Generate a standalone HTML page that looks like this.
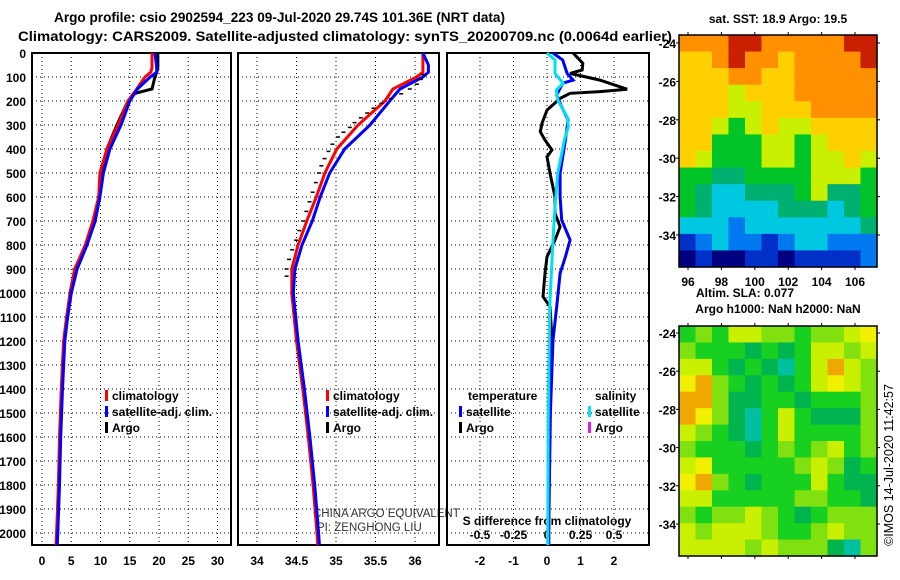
<!DOCTYPE html>
<html><head><meta charset="utf-8"><style>
body{margin:0;background:#fff;}
svg{display:block;font-family:"Liberation Sans",sans-serif;}
.t{font-weight:bold;font-size:12px;fill:#000;}
</style></head><body>
<svg id="c" width="900" height="580" viewBox="0 0 900 580" xmlns="http://www.w3.org/2000/svg">
<text x="54" y="22" textLength="451" lengthAdjust="spacingAndGlyphs" style="font-weight:bold;font-size:14px">Argo profile: csio 2902594_223 09-Jul-2020 29.74S 101.36E (NRT data)</text>
<text x="18" y="41" textLength="654" lengthAdjust="spacingAndGlyphs" style="font-weight:bold;font-size:14px">Climatology: CARS2009. Satellite-adjusted climatology: synTS_20200709.nc (0.0064d earlier)</text>
<text x="778" y="23" text-anchor="middle" class="t">sat. SST: 18.9 Argo: 19.5</text>
<text x="745" y="297" text-anchor="middle" class="t">Altim. SLA: 0.077</text>
<text x="778" y="313" text-anchor="middle" class="t">Argo h1000: NaN h2000: NaN</text>
<text transform="translate(893,465) rotate(-90)" text-anchor="middle" style="font-size:12.5px">©IMOS 14-Jul-2020 11:42:57</text>
<text x="313" y="517" style="font-size:11.5px;fill:#333">CHINA ARGO EQUIVALENT</text>
<text x="317" y="531" style="font-size:11.5px;fill:#333">PI: ZENGHONG LIU</text>
</svg>
<script>
// ---------- data ----------
const depthTicks=[0,100,200,300,400,500,600,700,800,900,1000,1100,1200,1300,1400,1500,1600,1700,1800,1900,2000];
const tempTicks=[0,5,10,15,20,25,30];
const salTicks=[34,34.5,35,35.5,36];
const salTickLabels=["34","34.5","35","35.5","36"];
const diffTicks=[-2,-1,0,1,2];
const sDiffTicks=[-0.5,-0.25,0,0.25,0.5];
const sDiffTickLabels=["-0.5","-0.25","0","0.25","0.5"];

const tDepth=[0,60,80,100,150,170,200,300,400,500,600,700,800,900,1000,1100,1200,1400,1600,1800,2000,2050];
const tArgo=[19.8,19.8,19.6,19.3,18.8,15.6,14.7,12.8,11.1,10.2,9.7,9.1,7.5,5.6,4.8,4.3,3.8,3.4,3.1,2.9,2.6,2.5];
const tClim=[18.8,18.8,18.6,17.6,16.2,15.6,14.7,13.0,11.1,9.9,9.7,8.7,7.4,5.6,4.8,4.2,3.7,3.3,3.0,2.8,2.5,2.4];
const tSat=[19.3,19.6,19.6,18.5,16.3,15.8,15.0,13.5,11.6,10.5,9.9,9.1,7.7,6.0,5.0,4.4,3.9,3.5,3.2,3.0,2.7,2.6];

const sDepth=[0,50,80,100,150,200,300,400,500,600,700,800,900,1000,1200,1400,1600,1800,2000,2050];
const sClim=[36.1,36.1,36.1,36.02,35.72,35.62,35.28,35.01,34.86,34.75,34.63,34.52,34.44,34.44,34.5,34.58,34.65,34.71,34.76,34.77];
const sSat=[36.1,36.17,36.17,36.1,35.81,35.68,35.43,35.11,34.92,34.8,34.7,34.57,34.48,34.46,34.52,34.6,34.67,34.73,34.78,34.79];
const sArgoDepth=[90,110,130,150,170,190,210,230,250,270,290,310,330,350,380,410,440,470,500,540,580,620,660,700,740,780,820,860,900,930];
const sArgo=[36.13,36.1,36.05,35.96,35.85,35.72,35.6,35.5,35.42,35.34,35.26,35.2,35.12,35.05,34.98,34.93,34.88,34.84,34.81,34.77,34.73,34.69,34.65,34.61,34.56,34.52,34.47,34.43,34.4,34.4];

const dTArgoDepth=[0,43,71,85,113,151,161,168,189,238,293,328,363,404,432,501,599,668,724,779,849,918,1015,1057,1196,1300,1600,2000,2050];
const dTArgo=[0.78,1.07,1.05,0.69,1.58,2.39,1.58,0.69,0.39,0,-0.15,-0.2,-0.06,0.15,0,0.09,0.24,0.24,0.39,0.24,0,-0.06,-0.12,0.09,0.15,0.08,0.06,0.05,0.05];
const dTSatDepth=[0,29,85,113,126,175,224,279,363,501,599,696,779,849,918,1057,1196,1500,2000,2050];
const dTSat=[0.18,0.47,0.6,0.78,0.47,0.29,0.44,0.63,0.55,0.39,0.39,0.44,0.69,0.55,0.39,0.29,0.18,0.1,0.05,0.05];
const dSSatDepth=[0,29,85,126,154,196,265,307,363,501,640,779,1057,1500,2050];
const dSSat=[0,0.06,0.06,0.12,0.07,0.08,0.15,0.16,0.13,0.08,0.06,0.045,0.02,0.01,0.005];

// map colour-level grids (12 cols x 14 rows)
const sstGrid=[
[8,8,8,9,9,8,8,8,8,8,9,9],[7,7,8,9,8,8,7,8,8,8,8,9],[7,7,7,8,8,7,7,8,8,8,8,8],[7,7,7,6,7,7,7,8,8,8,8,8],
[7,7,7,6,6,7,7,7,8,8,8,8],[7,7,6,5,6,7,6,6,7,7,7,7],[7,7,5,5,5,6,6,5,6,7,7,7],[7,6,5,5,5,6,6,5,6,6,7,6],
[5,5,4,4,5,5,5,5,6,6,6,5],[5,4,3,3,4,4,4,5,6,4,4,5],[5,4,3,3,3,3,4,4,4,3,4,5],[3,3,3,2,3,3,3,3,3,3,3,4],
[1,2,3,2,2,1,2,3,3,2,2,2],[0,1,0,0,1,1,0,1,1,1,1,2]];
const slaGrid=[
[2,3,2,4,4,3,3,2,3,3,4,5],[3,2,2,2,1,2,1,2,4,4,3,4],[4,4,2,1,2,1,0,2,4,6,4,3],[5,6,3,2,1,2,1,2,4,5,4,3],
[6,6,3,1,1,2,2,1,2,2,2,3],[6,5,3,1,0,2,4,2,1,1,1,3],[4,3,2,1,0,2,4,2,2,2,2,3],[3,2,2,2,1,2,3,2,3,4,2,3],
[4,5,2,2,2,2,2,3,4,3,1,2],[5,6,3,2,1,2,2,2,4,2,1,1],[4,4,2,2,2,2,2,3,3,2,2,1],[3,2,3,3,4,3,2,1,2,3,3,3],
[4,3,4,4,4,3,2,2,3,4,3,3],[4,4,4,4,3,4,3,3,3,1,0,3]];
const sstColors=["#000080","#0030c8","#0078f0","#00c8e0","#00b070","#00c428","#c8f000","#ffd000","#ff9000","#c82000"];
const slaColors=["#00c0a0","#00b450","#18d020","#80e010","#c8f000","#f0f000","#f0a800"];
const latTicks=[-24,-26,-28,-30,-32,-34];
const lonTicks=[96,98,100,102,104,106];

// ---------- scales ----------
const Y=d=>53+d*0.24;
const XT=t=>42+t*5.85;
const XS=s=>257+(s-34)*79;
const XD=d=>547+d*33.5;
const XSD=s=>547+s*134;
const NS="http://www.w3.org/2000/svg";
const svg=document.getElementById('c');
function mk(tag,attrs,parent){const e=document.createElementNS(NS,tag);for(const k in attrs)e.setAttribute(k,attrs[k]);(parent||svg).appendChild(e);return e;}
function txt(x,y,s,anchor,cls){const e=mk('text',{x:x,y:y,'text-anchor':anchor||'middle',class:cls||'t'});e.textContent=s;return e;}

// ---------- panels ----------
const panels=[[32,231],[238,439],[447,649]];
panels.forEach((p,i)=>{
  const g=mk('g',{});
  
  
  depthTicks.forEach(d=>{const l=mk('line',{x1:p[0],x2:p[1],y1:Y(d),y2:Y(d),stroke:'#000','stroke-width':1,'stroke-dasharray':'1,3'},g);
    
    });
  const xs=i==0?tempTicks.map(XT):i==1?salTicks.map(XS):diffTicks.map(XD);
  xs.forEach(x=>{const l=mk('line',{x1:x,x2:x,y1:53,y2:545,stroke:'#000','stroke-width':1,'stroke-dasharray':'1,3'},g);
    
    });
  const r=mk('rect',{x:p[0],y:53,width:p[1]-p[0],height:492,fill:'none',stroke:'#000','stroke-width':2},g);
  
  
});
depthTicks.forEach(d=>{const t=txt(26,Y(d)+5,String(d),'end');
  
  });
tempTicks.forEach(v=>{const t=txt(XT(v),565,String(v));
  
  });
salTicks.forEach((v,i)=>{const t=txt(XS(v),565,salTickLabels[i]);
  
  });
diffTicks.forEach(v=>{const t=txt(XD(v),565,String(v));
  
  });
sDiffTicks.forEach((v,i)=>{const t=txt(XSD(v),539,sDiffTickLabels[i]);
  
  });
const sdl=txt(547,525,'S difference from climatology');



function line(depths,vals,xf,color,w,name){
  const pts=depths.map((d,i)=>xf(vals[i]).toFixed(1)+','+Y(d).toFixed(1)).join(' ');
  const e=mk('polyline',{points:pts,fill:'none',stroke:color,'stroke-width':w});
  
  
}
line(tDepth,tArgo,XT,'#000',3,'temperature-argo-line');
line(tDepth,tClim,XT,'#f00',3,'temperature-climatology-line');
line(tDepth,tSat,XT,'#00f',3,'temperature-satellite-line');
line(sDepth,sClim,XS,'#f00',3,'salinity-climatology-line');
line(sDepth,sSat,XS,'#00f',3,'salinity-satellite-line');
// Argo salinity drawn as short dash marks
const sag=mk('g',{});


sArgoDepth.forEach((d,i)=>{
  const x=XS(sArgo[i])-4,y=Y(d);
  const m=mk('line',{x1:x,x2:x+4,y1:y,y2:y,stroke:'#000','stroke-width':1.5},sag);
  
  
});
line(dTArgoDepth,dTArgo,XD,'#000',3,'temperature-argo-difference-line');
line(dTSatDepth,dTSat,XD,'#00f',3,'temperature-satellite-difference-line');
line(dSSatDepth,dSSat,XSD,'#00e0f0',3,'salinity-satellite-difference-line');

// ---------- legends ----------
function leg(x,y,color,label){
  const g=mk('g',{});
  
  
  mk('rect',{x:x,y:y-10,width:3,height:11,fill:color},g);
  const t=mk('text',{x:x+7,y:y,class:'t'},g);t.textContent=label;
}
leg(105,400,'#f00','climatology');leg(105,416,'#00f','satellite-adj. clim.');leg(105,432,'#000','Argo');
leg(326,400,'#f00','climatology');leg(326,416,'#00f','satellite-adj. clim.');leg(326,432,'#000','Argo');
const th=txt(468,400,'temperature','start');


const sh=txt(595,400,'salinity','start');


leg(459,416,'#00f','satellite');leg(459,432,'#000','Argo');
leg(588,416,'#00e8f0','satellite');leg(588,432,'#e020e0','Argo');

// ---------- maps ----------
function map(grid,colors,x0,y0,w,h,name,off,step){
  const g=mk('g',{});
  
  
  const rows=grid.length,cols=grid[0].length,cw=w/cols,ch=h/rows;
  grid.forEach((row,r)=>row.forEach((v,c)=>{
    const e=mk('rect',{x:(x0+c*cw).toFixed(2),y:(y0+r*ch).toFixed(2),width:(cw+0.6).toFixed(2),height:(ch+0.6).toFixed(2),fill:colors[v]},g);
    
    
  }));
  const f=mk('rect',{x:x0,y:y0,width:w,height:h,fill:'none',stroke:'#000','stroke-width':1.5},g);
  
  
  latTicks.forEach(v=>{const yy=y0+off+(-24-v)/2*step;
    const t=txt(x0-3,yy+5,String(v),'end');
    
    
    mk('line',{x1:x0-3,x2:x0,y1:yy,y2:yy,stroke:'#000'},g);
    mk('line',{x1:x0+w,x2:x0+w+3,y1:yy,y2:yy,stroke:'#000'},g);});
  lonTicks.forEach(v=>{const xx=x0+9+(v-96)*16.7;
    mk('line',{x1:xx,x2:xx,y1:y0+h,y2:y0+h+3,stroke:'#000'},g);
    mk('line',{x1:xx,x2:xx,y1:y0-3,y2:y0,stroke:'#000'},g);});
}
map(sstGrid,sstColors,679,35,198,232,'sst-map',8,38.4);
map(slaGrid,slaColors,679,326,198,230,'sla-map',7,38.2);
lonTicks.forEach(v=>{const t=txt(688+(v-96)*16.7,286,String(v));
  
  });
</script>
</body></html>
